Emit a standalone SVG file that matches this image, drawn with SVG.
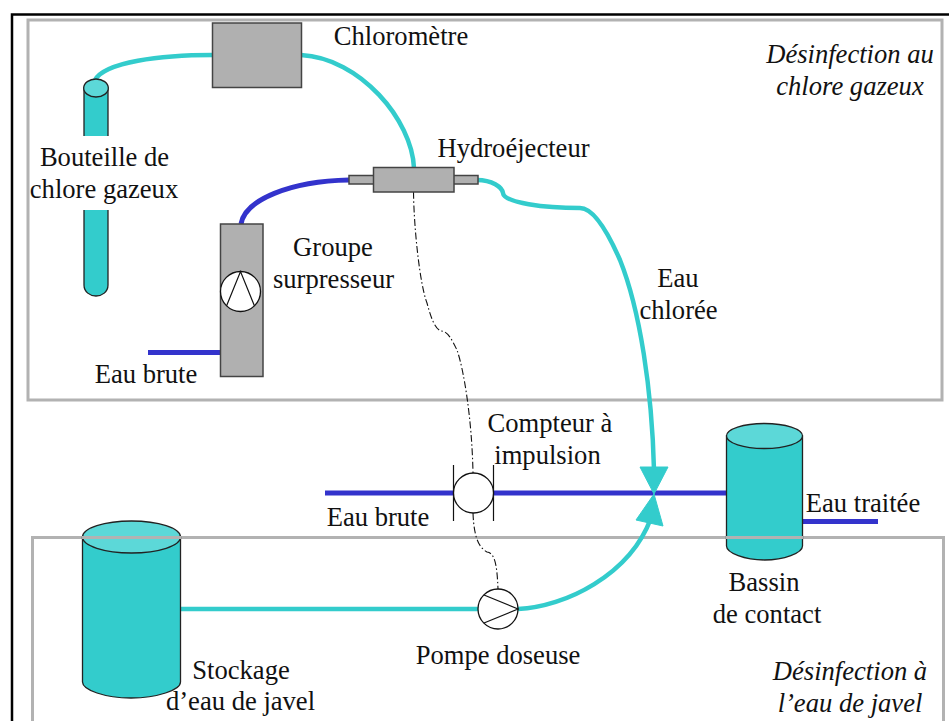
<svg xmlns="http://www.w3.org/2000/svg" width="949" height="721" viewBox="0 0 949 721">
<style>
text{font-family:"Liberation Serif","Times New Roman",serif;font-size:26.6px;fill:#111;text-anchor:middle}
.it{font-style:italic}
.frame{fill:none;stroke:#b2b2b2;stroke-width:3}
.box{fill:#b0b0b0;stroke:#444;stroke-width:1.5}
.cy{fill:#33cccc;stroke:#222;stroke-width:1.3}
.top{fill:#5cd8d8;stroke:#222;stroke-width:1.3}
.c{fill:none;stroke:#33cccc;stroke-width:4.5}
.b{fill:none;stroke:#3333cc;stroke-width:5}
.s{fill:none;stroke:#111;stroke-width:1.2}
.d{fill:none;stroke:#111;stroke-width:1.1;stroke-dasharray:7 2.5 1.5 2.5}
.w{fill:#fff;stroke:#111;stroke-width:1.3}
</style>
<rect width="949" height="721" fill="#fff"/>
<path d="M12 721V14.500H949" fill="none" stroke="#000" stroke-width="2.500"/>
<g id="frames">
<path class="frame" d="M942 20H28V400H942Z"/>
<path class="frame" d="M32.500 721V537.500H943.500V721"/>
</g>
<g id="connectors">
<path class="c" d="M95 80C105 62 160 55 213 55"/>
<path class="c" d="M301 55C360 58 412 120 414 168"/>
<path class="c" d="M477 180C492 180 502 187 503 193C504 203 545 208 580 208C592 208 606 228 620 260C640 310 652 390 654 470"/>
<path class="c" d="M180 609H478"/>
<path class="c" d="M518 609C565 607 630 575 651 518"/>
<path class="b" d="M241 224C245 200 290 181 349 180"/>
<path class="b" d="M148 352.500H221"/>
<path class="b" d="M325 493H727"/>
<path class="b" d="M799 521.500H878"/>
<path class="d" d="M413.500 192C414 230 420 285 427 303C432 322 436 329 441 331C448 331 452 340 457 350C464 370 472 420 473 473"/>
<path class="d" d="M473 513C474 540 480 548 487 552C495 553 497 565 498 589"/>
<polygon points="640,467 668,467 654,494" fill="#33cccc" stroke="#33cccc"/>
<polygon points="654,494 636,520 663,526" fill="#33cccc" stroke="#33cccc"/>
</g>
<g id="bouteille">
<path class="cy" d="M84 88V285C84 292 90 296 96 296C102 296 108 292 108 285V88Z"/>
<ellipse class="top" cx="96" cy="88" rx="12.300" ry="9"/>
<rect x="30" y="136" width="150" height="74" fill="#fff"/>
<text x="104.500" y="166">Bouteille de</text>
<text x="104" y="198">chlore gazeux</text>
</g>
<g id="chlorometre">
<rect class="box" x="212.500" y="23" width="89" height="64.500"/>
<text x="401" y="45">Chloromètre</text>
</g>
<g id="hydroejecteur">
<rect class="box" x="349" y="175.500" width="25" height="8.500"/>
<rect class="box" x="453" y="175.500" width="25" height="8.500"/>
<rect class="box" x="373.500" y="167.500" width="80.500" height="24.500"/>
<text x="513.500" y="157">Hydroéjecteur</text>
</g>
<g id="groupe">
<rect class="box" x="220.500" y="224" width="42.500" height="152.500"/>
<circle class="w" cx="240.500" cy="291.500" r="20"/>
<path class="s" d="M226.500 306L240.500 271.500L254.500 306"/>
<text x="333" y="255.500">Groupe</text>
<text x="333.500" y="287.500">surpresseur</text>
</g>
<text x="146" y="383">Eau brute</text>
<text x="378" y="526">Eau brute</text>
<g id="compteur">
<path class="s" d="M453.500 465V521M493.500 465V521"/>
<circle class="w" cx="473.500" cy="493" r="20"/>
<text x="550" y="431.500">Compteur à</text>
<text x="547.500" y="463.500">impulsion</text>
</g>
<g id="pompe">
<circle class="w" cx="498" cy="609" r="20"/>
<path class="s" d="M484 595L518 609L484 623"/>
<text x="498" y="664">Pompe doseuse</text>
</g>
<g id="stockage">
<path class="cy" d="M82.500 538V682C82.500 690 105 698 131 698C157 698 180.500 690 180.500 682V538Z"/>
<ellipse class="top" cx="131.500" cy="537" rx="49" ry="16"/>
<path d="M82 537.500H181" stroke="#b2b2b2" stroke-width="3"/>
<text x="241" y="678.500">Stockage</text>
<text x="240.500" y="710">d’eau de javel</text>
</g>
<g id="bassin">
<path class="cy" d="M726.500 436V546C726.500 553 745 560 764.500 560C784 560 802.500 553 802.500 546V436Z"/>
<ellipse class="top" cx="764.500" cy="436" rx="38" ry="12.500"/>
<path d="M726 537.500H803" stroke="#b2b2b2" stroke-width="3"/>
<text x="764" y="591">Bassin</text>
<text x="767" y="622.500">de contact</text>
</g>
<text x="863" y="512">Eau traitée</text>
<text class="it" x="850" y="63">Désinfection au</text>
<text class="it" x="850" y="95">chlore gazeux</text>
<text class="it" x="850" y="680">Désinfection à</text>
<text class="it" x="850" y="712">l’eau de javel</text>
<text x="678" y="287">Eau</text>
<text x="678.500" y="318.500">chlorée</text>
</svg>
